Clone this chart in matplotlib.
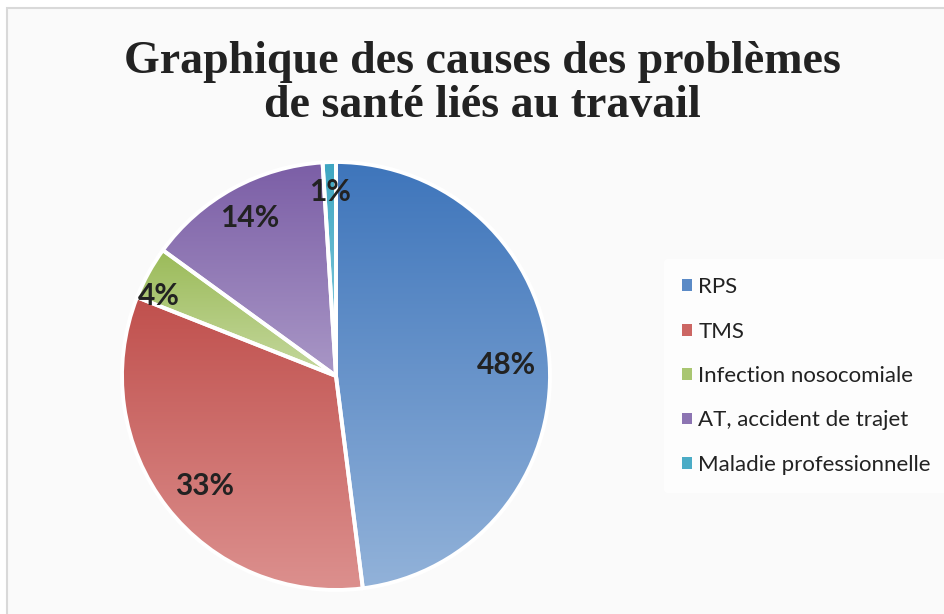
import numpy as np
import matplotlib
matplotlib.use("Agg")
import matplotlib.pyplot as plt
from matplotlib.patches import Patch, Rectangle
from matplotlib.colors import LinearSegmentedColormap

labels = ["RPS", "TMS", "Infection nosocomiale", "AT, accident de trajet", "Maladie professionnelle"]
values = [48, 33, 4, 14, 1]
top_colors = ["#3e75bb", "#c0504d", "#9bbb59", "#7b5ea6", "#3ea6c2"]
bottom_colors = ["#92b2d9", "#dc908e", "#c5d89e", "#a997c6", "#8fd0e0"]
mid_colors = ["#5a8ac6", "#cc6663", "#a9c671", "#8c74b2", "#4bacc6"]
label_radius = [0.80, 0.80, 0.91, 0.84, 0.86]
label_angle_shift = [0.0, 2.0, 4.5, 0.0, 0.0]
title = "Graphique des causes des problèmes\nde santé liés au travail"

W, H = 944, 614
fig = plt.figure(figsize=(W / 100, H / 100), dpi=100)
fig.patch.set_facecolor("white")
fig.add_artist(Rectangle((7 / W, -0.01), 1.0, (H - 8) / H + 0.01, transform=fig.transFigure,
                         facecolor="#fafafa", edgecolor="#d9d9d9", linewidth=1.5, zorder=0))

cx, cy, R = 336, 376, 214
ax = fig.add_axes([(cx - R) / W, (H - cy - R) / H, 2 * R / W, 2 * R / H])
ax.axis("off")

wedges, _ = ax.pie(values, startangle=90, counterclock=False, radius=1,
                   colors=mid_colors,
                   wedgeprops=dict(edgecolor="white", linewidth=2.8, zorder=2))

for w, tc, bc in zip(wedges, top_colors, bottom_colors):
    ext = w.get_path().get_extents()
    cmap = LinearSegmentedColormap.from_list("g", [tc, bc])
    grad = np.linspace(0, 1, 256).reshape(-1, 1)
    im = ax.imshow(grad, cmap=cmap, extent=[ext.x0, ext.x1, ext.y0, ext.y1],
                   origin="upper", aspect="auto", zorder=1, interpolation="bilinear")
    im.set_clip_path(w)
    w.set_facecolor("none")
ax.set_xlim(-1.0, 1.0)
ax.set_ylim(-1.0, 1.0)
ax.set_aspect("equal")

for w, v, r, da in zip(wedges, values, label_radius, label_angle_shift):
    ang = np.deg2rad((w.theta1 + w.theta2) / 2 + da)
    ax.text(r * np.cos(ang), r * np.sin(ang), f"{v}%", ha="center", va="center",
            fontsize=21.5, fontweight="bold", family="Lato", color="#222222", zorder=3)

fig.text(482 / W, (H - 84) / H, title, ha="center", va="center", fontsize=33,
         fontweight="bold", family="Liberation Serif", color="#222222", linespacing=1.08)

handles = [Patch(facecolor=c, edgecolor="none") for c in mid_colors]
leg = fig.legend(handles, labels, loc="center left", bbox_to_anchor=(664 / W, (H - 376) / H),
                 frameon=True, prop={"family": "Lato", "size": 16},
                 handlelength=0.45, handleheight=0.45, handletextpad=0.3,
                 labelspacing=1.1, borderpad=0.8, borderaxespad=0)
leg.get_frame().set_facecolor("white")
leg.get_frame().set_edgecolor("none")
for t in leg.get_texts():
    t.set_color("#222222")

fig.savefig("out.png", dpi=100, facecolor=fig.get_facecolor())
